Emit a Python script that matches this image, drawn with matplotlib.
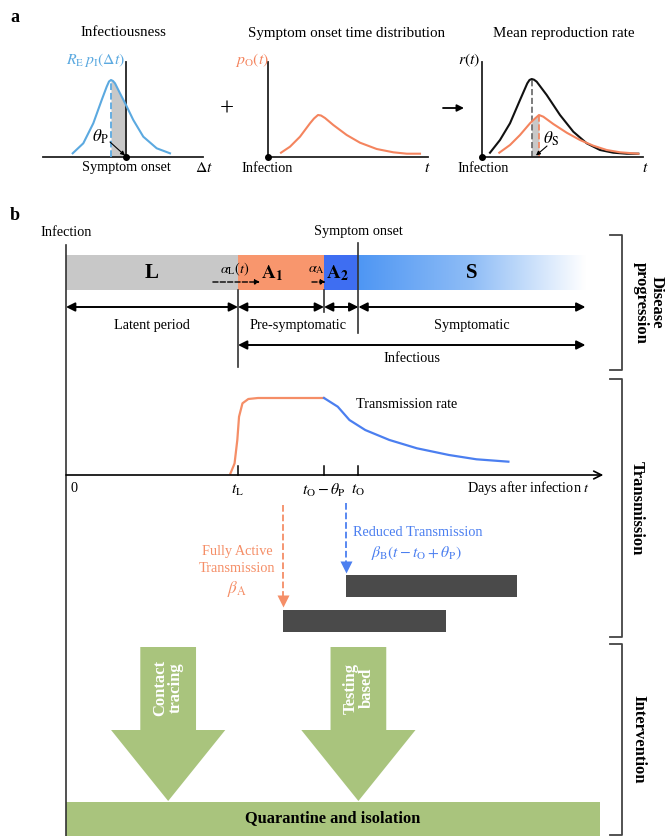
import numpy as np
import matplotlib.pyplot as plt
from matplotlib.colors import LinearSegmentedColormap
from matplotlib.patches import Polygon

plt.rcParams["font.family"] = ["Liberation Serif", "DejaVu Serif"]
plt.rcParams["mathtext.fontset"] = "stix"

W, H = 665, 836
X0 = 66  # pixel column of day 0 in panel b
DAY_PX = 34.4  # pixels per day in panel b
FS = 10.3

# --- panel a: schematic curves (offset, height) ---
INF_DT = [-53.3, -42.7, -32.7, -24.3, -19.3, -17, -15, -13, -11, -6, 0, 7.3, 17.3, 30.7, 44]
INF_VAL = [3.7, 13.7, 33.7, 57, 70.3, 75.5, 77, 76, 73.7, 63.7, 52, 37, 20.3, 8.7, 3.7]
THETA_P_A = 15  # gray area before onset

ONSET_T = [13, 22, 32, 42, 46, 50, 53, 57, 65.3, 78.7, 92, 108.7, 125.3, 138.7, 152]
ONSET_VAL = [4.3, 10.3, 20.3, 33.7, 38.5, 42, 41.5, 39, 32, 22, 14.3, 8, 4.7, 3.3, 3.3]

REPRO_T = [8, 18, 28, 38, 45.3, 47.5, 49.7, 52, 54.7, 64.7, 78, 91.3, 104.7, 118, 131.3, 144.7, 156.3]
REPRO_VAL = [4.3, 17, 33.7, 57, 73.7, 77, 78, 77.3, 75.3, 62, 42, 25.3, 13.7, 7, 4.3, 3.3, 3.3]
REPRO_O_T = [17.3, 28, 38, 48, 53, 57, 61.3, 71.3, 84.7, 98, 111.3, 124.7, 138, 156.3]
REPRO_O_VAL = [4.3, 12, 22, 33.7, 38.5, 42, 40.3, 33, 24.3, 17, 11.3, 7, 4.7, 3.3]

# --- panel b: timeline in days ---
STAGES = ["L", "A1", "A2", "S"]
STAGE_EDGES = [0, 5.0, 7.5, 8.5, 15.1]
T_L, T_O, THETA_P = 5.0, 8.5, 1.0
TR_DAY = [4.78, 4.90, 4.98, 5.03, 5.13, 5.30, 5.58, 7.5, 7.9, 8.24, 8.7, 9.4, 10.2, 11.13, 11.93, 12.86]
TR_RATE = [0.02, 0.15, 0.455, 0.757, 0.931, 0.987, 1.0, 1.0, 0.887, 0.714, 0.584, 0.455, 0.347, 0.26, 0.204, 0.173]
TRANS_START = [6.31, 8.14]  # fully active, reduced
TRANS_END = [11.05, 13.1]
INTERVENTIONS = ["Contact\ntracing", "Testing\nbased"]
INTERVENTION_DAY = [2.97, 8.5]
QUARANTINE_END = 15.52

C_BLUE_A = "#5ba9e0"
C_ORANGE = "#f4845e"
C_STAGE = ["#c8c8c8", "#f8966d", "#3e6ef2"]
C_TR_O, C_TR_B = "#f58e67", "#4b7ff0"
C_GREEN = "#a9c47d"
C_BAR = "#4a4a4a"
C_LINE = "#333333"

fig = plt.figure(figsize=(W / 100, H / 100), dpi=100)
ax = fig.add_axes([0, 0, 1, 1])
ax.set_xlim(0, W)
ax.set_ylim(H, 0)
ax.axis("off")


def small_axes(x0, y0, left, right, top):
    a = fig.add_axes([left / W, 1 - y0 / H, (right - left) / W, (y0 - top) / H])
    a.set_xlim(left - x0, right - x0)
    a.set_ylim(0, y0 - top)
    a.patch.set_visible(False)
    for s in ("top", "right"):
        a.spines[s].set_visible(False)
    a.spines["left"].set_position(("data", 0))
    for s in ("left", "bottom"):
        a.spines[s].set_linewidth(1.3)
        a.spines[s].set_color("#222222")
    a.set_xticks([])
    a.set_yticks([])
    a.plot(0, 0, "o", color="k", ms=4, clip_on=False, zorder=5)
    return a


# ---------------- panel a ----------------
ax.text(10, 18, "a", fontsize=13, fontweight="bold", va="center")
ax.text(123, 33, "Infectiousness", fontsize=FS + 0.5, ha="center", va="center")
ax.text(347, 33, "Symptom onset time distribution", fontsize=FS + 0.5, ha="center", va="center")
ax.text(564, 33, "Mean reproduction rate", fontsize=FS + 0.5, ha="center", va="center")
ax.text(227, 110, "+", fontsize=18, ha="center", va="center")
ax.annotate("", xy=(464, 108), xytext=(443, 108),
            arrowprops=dict(arrowstyle="-|>", color="k", lw=1.3, mutation_scale=10,
                            shrinkA=0, shrinkB=0))

a1 = small_axes(126, 157, 43, 203, 62)
dt = np.array(INF_DT)
iv = np.array(INF_VAL)
m = (dt >= -THETA_P_A) & (dt <= 0)
a1.fill_between(dt[m], 0, iv[m], color="#c8c8c8", lw=0, zorder=1)
a1.plot(dt, iv, color=C_BLUE_A, lw=1.5, clip_on=False, zorder=3)
a1.plot([-THETA_P_A, -THETA_P_A], [0, 77], ls="--", color=C_BLUE_A, lw=1.3, zorder=3)
a1.text(-30, 97, r"$R_{\rm E}\,p_{\rm I}(\Delta t)$", color=C_BLUE_A, fontsize=FS + 1,
        ha="center", va="center")
a1.text(-26, 20, r"$\theta_{\rm P}$", fontsize=FS + 2, ha="center", va="center")
a1.annotate("", xy=(-1, 1.5), xytext=(-16, 15),
            arrowprops=dict(arrowstyle="-|>", color="k", lw=0.8, mutation_scale=6,
                            shrinkA=0, shrinkB=0))
a1.text(0, -11, "Symptom onset", fontsize=FS, ha="center", va="center")
a1.text(78, -11, r"$\Delta t$", fontsize=FS + 1, ha="center", va="center")

a2 = small_axes(268, 157, 268, 428, 62)
a2.plot(ONSET_T, ONSET_VAL, color=C_ORANGE, lw=1.5, clip_on=False)
a2.text(-16, 97, r"$p_{\rm O}(t)$", color=C_ORANGE, fontsize=FS + 1, ha="center", va="center")
a2.text(-1, -11, "Infection", fontsize=FS, ha="center", va="center")
a2.text(159, -11, r"$t$", fontsize=FS + 1, ha="center", va="center")

a3 = small_axes(482, 157, 482, 643, 62)
rt = np.array(REPRO_O_T)
rv = np.array(REPRO_O_VAL)
pk = REPRO_T[int(np.argmax(REPRO_VAL))]
po = REPRO_O_T[int(np.argmax(REPRO_O_VAL))]
m = (rt >= pk - 0.1) & (rt <= po)
a3.fill_between(np.r_[pk, rt[m]], 0, np.r_[35, rv[m]], color="#c8c8c8", lw=0, zorder=1)
a3.plot(REPRO_T, REPRO_VAL, color="#111111", lw=1.5, clip_on=False, zorder=3)
a3.plot(REPRO_O_T, REPRO_O_VAL, color=C_ORANGE, lw=1.5, clip_on=False, zorder=3)
a3.plot([pk, pk], [0, max(REPRO_VAL)], ls="--", color="#666666", lw=1.2, zorder=2)
a3.plot([po, po], [0, max(REPRO_O_VAL)], ls="--", color=C_ORANGE, lw=1.2, zorder=2)
a3.text(-13, 97, r"$r(t)$", fontsize=FS + 1, ha="center", va="center")
a3.text(69, 18, r"$\theta_{\rm S}$", fontsize=FS + 2, ha="center", va="center")
a3.annotate("", xy=(54, 1.5), xytext=(65, 11),
            arrowprops=dict(arrowstyle="-|>", color="k", lw=0.8, mutation_scale=6,
                            shrinkA=0, shrinkB=0))
a3.text(1, -11, "Infection", fontsize=FS, ha="center", va="center")
a3.text(163, -11, r"$t$", fontsize=FS + 1, ha="center", va="center")

# ---------------- panel b ----------------
ax.text(10, 215, "b", fontsize=13, fontweight="bold", va="center")

bx = fig.add_axes([0, 0, 1, 1])
bx.axis("off")
bx.patch.set_visible(False)

edges = np.array(STAGE_EDGES)
bx.barh(272.5, np.diff(edges)[:3], left=edges[:3], height=35, color=C_STAGE, zorder=1)
cmap = LinearSegmentedColormap.from_list("s", ["#4e96f3", "#8fbdf6", "#ffffff"])
bx.imshow(np.linspace(0, 1, 256)[None, :], cmap=cmap, aspect="auto",
          extent=(edges[3], edges[4], 290, 255), zorder=1)

for i, lab in enumerate(STAGES):
    l, r = edges[i], edges[i + 1]
    x = (l + r) / 2 if lab in ("L", "S") else l + 0.4 * (r - l)
    if len(lab) == 1:
        bx.text(x, 273, lab, fontsize=15, fontweight="bold", ha="center", va="center", zorder=4)
    else:
        bx.text(x, 273, r"$\mathbf{%s}_{\mathbf{%s}}$" % (lab[0], lab[1]), fontsize=14,
                ha="center", va="center", zorder=4)

# transition arrows
for x0, x1, lab, xt in [(4.27, 5.64, r"$\alpha_{\rm L}(t)$", 4.91),
                        (7.15, 7.55, r"$\alpha_{\rm A}$", 7.27)]:
    bx.annotate("", xy=(x1, 282), xytext=(x0, 282),
                arrowprops=dict(arrowstyle="-|>", color="k", lw=1.0, ls="--",
                                mutation_scale=7, shrinkA=0, shrinkB=0), zorder=4)
    bx.text(xt, 269, lab, fontsize=FS, ha="center", va="center", zorder=3)

bx.text(0, 232, "Infection", fontsize=FS, ha="center", va="center")
bx.text(T_O, 232, "Symptom onset", fontsize=FS, ha="center", va="center")

for d, y0, y1 in [(0, 245, H), (T_L, 290, 367), (T_O - THETA_P, 290, 312), (T_O, 243, 333)]:
    bx.plot([d, d], [y0, y1], color=C_LINE, lw=1.2, zorder=3)

arrow_kw = dict(arrowstyle="<|-|>", color="k", lw=1.4, mutation_scale=13, shrinkA=0, shrinkB=0)
for i in range(4):
    bx.annotate("", xy=(edges[i + 1], 307), xytext=(edges[i], 307), arrowprops=arrow_kw)
bx.annotate("", xy=(edges[4], 345), xytext=(T_L, 345), arrowprops=arrow_kw)
bx.text((edges[0] + edges[1]) / 2, 326, "Latent period", fontsize=FS, ha="center", va="center")
bx.text((edges[1] + edges[3]) / 2, 326, "Pre-symptomatic", fontsize=FS, ha="center", va="center")
bx.text((edges[3] + edges[4]) / 2, 326, "Symptomatic", fontsize=FS, ha="center", va="center")
bx.text((T_L + edges[4]) / 2, 359, "Infectious", fontsize=FS, ha="center", va="center")

# transmission rate
base, scale = 475, 77
trd = np.array(TR_DAY)
trr = base - scale * np.array(TR_RATE)
split = T_O - THETA_P
bx.plot(trd[trd <= split], trr[trd <= split], color=C_TR_O, lw=1.6)
bx.plot(trd[trd >= split], trr[trd >= split], color=C_TR_B, lw=1.6)
bx.text(8.43, 405, "Transmission rate", fontsize=FS, ha="left", va="center")
bx.annotate("", xy=(15.62, base), xytext=(0, base),
            arrowprops=dict(arrowstyle="->", color="k", lw=1.2, mutation_scale=14,
                            shrinkA=0, shrinkB=0))
for d, lab in [(T_L, r"$t_{\rm L}$"), (T_O - THETA_P, r"$t_{\rm O}-\theta_{\rm P}$"),
               (T_O, r"$t_{\rm O}$")]:
    bx.plot([d, d], [466, base], color="k", lw=1.1)
    bx.text(d, 490, lab, fontsize=FS + 1, ha="center", va="center")
bx.text(0.23, 488, "0", fontsize=FS, ha="center", va="center")
bx.text(15.23, 488, r"Days after infection $t$", fontsize=FS, ha="right", va="center")

# transmission phases
for d, y0, y1, c in [(TRANS_START[0], 505, 600, C_TR_O), (TRANS_START[1], 503, 566, C_TR_B)]:
    bx.plot([d, d], [y0, y1], ls="--", color=c, lw=1.3)
    bx.plot(d, y1 + 1, marker="v", ms=9, color=c, mec="none")
bx.text(TRANS_START[0] - 1.34, 560, "Fully Active\nTransmission", color=C_TR_O, fontsize=FS,
        ha="center", va="center", linespacing=1.3)
bx.text(TRANS_START[0] - 1.34, 589, r"$\beta_{\rm A}$", color=C_TR_O, fontsize=FS + 2,
        ha="center", va="center")
bx.text(10.23, 533, "Reduced Transmission", color=C_TR_B, fontsize=FS, ha="center", va="center")
bx.text(10.2, 553, r"$\beta_{\rm B}(t-t_{\rm O}+\theta_{\rm P})$", color=C_TR_B, fontsize=FS + 1,
        ha="center", va="center")
starts = np.array(TRANS_START)
bx.barh([621, 585.5], np.array(TRANS_END) - starts, left=starts, height=22, color=C_BAR)

# interventions
for lab, d in zip(INTERVENTIONS, INTERVENTION_DAY):
    sw, hw = 0.81, 1.66
    pts = [(d - sw, 647), (d + sw, 647), (d + sw, 730), (d + hw, 730), (d, 801),
           (d - hw, 730), (d - sw, 730)]
    bx.add_patch(Polygon(pts, closed=True, fc=C_GREEN, ec="none"))
    bx.text(d, 688, lab, rotation=90, color="white", fontsize=12, fontweight="bold",
            ha="center", va="center", linespacing=1.0)
bx.barh(820, QUARANTINE_END, left=0, height=36, color=C_GREEN, zorder=2)
bx.text(QUARANTINE_END / 2, 818, "Quarantine and isolation", fontsize=11.8, fontweight="bold",
        ha="center", va="center", zorder=3)

bx.set_xlim(-X0 / DAY_PX, (W - X0) / DAY_PX)
bx.set_ylim(H, 0)

# right-side brackets
for y0, y1, lab, xt in [(235, 370, "Disease\nprogression", 649), (379, 637, "Transmission", 637),
                        (644, 835, "Intervention", 638)]:
    ax.plot([610, 622, 622, 610], [y0, y0, y1, y1], color="#444444", lw=1.3)
    ax.text(xt, (y0 + y1) / 2, lab, rotation=-90, fontsize=12, fontweight="bold",
            ha="center", va="center", linespacing=1.0)

fig.savefig("out.png", dpi=100)
